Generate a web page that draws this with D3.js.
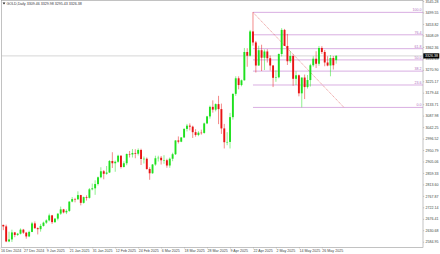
<!DOCTYPE html>
<html>
<head>
<meta charset="utf-8">
<script src="https://cdn.jsdelivr.net/npm/d3@7"></script>
<style>
  body { margin: 0; background: #fff; }
  svg text { font-family: "Liberation Sans", Arial, sans-serif; }
</style>
</head>
<body>
<div id="chart"></div>
<script>
// daily bars, 17 Dec 2024 .. 2 Jun 2025 (index = bar number)
var opens = [2652,2646,2586,2594,2622,2612,2617,2633,2621,2606,
  2624,2658,2639,2635,2648,2661,2670,2690,2663,2677,
  2697,2714,2702,2708,2745,2755,2754,2771,2740,2763,
  2760,2794,2798,2815,2842,2866,2856,2861,2907,2898,
  2904,2928,2883,2898,2935,2933,2939,2936,2951,2915,
  2916,2875,2858,2893,2918,2920,2910,2910,2889,2916,
  2934,2989,2984,3001,3035,3048,3044,3022,3011,3020,
  3019,3057,3085,3123,3112,3134,3114,3037,2982,2983,
  3082,3175,3237,3210,3229,3342,3327,3424,3380,3288,
  3349,3319,3344,3317,3288,3239,3241,3334,3430,3366,
  3305,3326,3235,3249,3177,3240,3202,3230,3289,3315,
  3295,3358,3342,3300,3288,3318,3309.46];
var highs = [2653,2653,2625,2633,2624,2620,2638,2636,2624,2629,
  2664,2666,2642,2656,2665,2674,2697,2692,2679,2698,
  2725,2716,2714,2746,2763,2760,2786,2772,2765,2770,
  2799,2817,2830,2845,2882,2871,2887,2911,2942,2909,
  2932,2930,2906,2937,2947,2955,2954,2957,2956,2925,
  2921,2882,2895,2928,2928,2927,2930,2916,2921,2940,
  2990,3005,3002,3038,3055,3057,3048,3034,3026,3032,
  3060,3087,3128,3149,3137,3167,3136,3055,3022,3099,
  3176,3245,3245,3232,3358,3357,3430,3500,3386,3367,
  3371,3352,3353,3328,3290,3269,3336,3437,3434,3414,
  3345,3332,3265,3252,3240,3252,3250,3295,3325,3345,
  3366,3365,3350,3325,3330,3326,3329.98];
var lows = [2631,2583,2583,2584,2603,2608,2614,2616,2597,2603,
  2623,2636,2614,2625,2645,2656,2666,2656,2660,2670,
  2692,2698,2695,2704,2742,2742,2753,2730,2737,2749,
  2757,2790,2772,2809,2838,2834,2852,2859,2879,2864,
  2900,2877,2881,2890,2921,2921,2918,2929,2891,2897,
  2872,2832,2856,2888,2905,2893,2896,2880,2880,2906,
  2931,2977,2982,2999,3025,3029,2999,3004,3006,3012,
  3016,3054,3076,3100,3105,3054,3015,2957,2970,2957,
  3072,3167,3193,3205,3228,3283,3324,3367,3260,3287,
  3266,3270,3300,3268,3202,3223,3237,3324,3366,3290,
  3298,3207,3210,3165,3121,3154,3196,3204,3283,3278,
  3287,3334,3285,3285,3245,3272,3295.43];
var closes = [2646,2586,2594,2622,2612,2617,2633,2621,2606,2624,
  2658,2639,2635,2648,2661,2670,2690,2663,2677,2697,
  2714,2702,2708,2745,2755,2754,2771,2740,2763,2760,
  2794,2798,2815,2842,2866,2856,2861,2907,2898,2904,
  2928,2883,2898,2935,2933,2939,2936,2951,2915,2916,
  2875,2858,2893,2918,2920,2910,2911,2889,2916,2934,
  2989,2984,3001,3035,3048,3044,3022,3011,3020,3019,
  3057,3085,3123,3112,3134,3114,3037,2982,2983,3082,
  3175,3237,3210,3229,3342,3327,3424,3380,3288,3349,
  3319,3344,3317,3288,3239,3241,3334,3430,3366,3305,
  3326,3235,3249,3177,3240,3202,3230,3289,3315,3295,
  3358,3342,3300,3288,3318,3289,3326.38];

var dateTickBars = [-1, 7, 15, 23, 31, 39, 47, 55, 63, 71, 79, 87, 95, 103, 111];
var dateTickLabels = ["16 Dec 2024", "27 Dec 2024", "9 Jan 2025", "21 Jan 2025", "31 Jan 2025",
  "12 Feb 2025", "24 Feb 2025", "6 Mar 2025", "18 Mar 2025", "28 Mar 2025",
  "9 Apr 2025", "22 Apr 2025", "2 May 2025", "14 May 2025", "26 May 2025"];
var priceTicks = [2584.95, 2630.68, 2676.41, 2722.14, 2767.87, 2813.60, 2859.33, 2905.06,
  2950.79, 2996.52, 3042.25, 3087.98, 3133.71, 3179.44, 3225.17, 3270.90, 3316.63,
  3362.36, 3408.09, 3453.82, 3499.55, 3545.28];

// fibonacci retracement: anchor bars / prices, levels
var fibBars = [87, 118.7];
var fibPrices = [3500.05, 3120.78];
var fibLevels = [0, 23.6, 38.2, 50.0, 61.8, 76.4, 100.0];

var title = "GOLD,Daily  3309.46 3329.98 3295.43 3326.38";

var W = 440, H = 254;
var plot = {left: 1.5, right: 423, top: 0.5, bottom: 247.5};

var svg = d3.select("#chart")
  .append("svg")
    .attr("width", W)
    .attr("height", H);

var x = d3.scaleLinear()
  .domain([0, 116])
  .range([3.3, 336.2]);

var y = d3.scaleLinear()
  .domain([2575.8, 3549.4])
  .range([244, 0]);

var bars = d3.range(opens.length).map(function(i) {
  return {i: i, o: opens[i], h: highs[i], l: lows[i], c: closes[i]};
});

// frame
svg.append("rect")
  .attr("x", plot.left).attr("y", plot.top)
  .attr("width", plot.right - plot.left)
  .attr("height", plot.bottom - plot.top)
  .attr("fill", "none")
  .attr("stroke", "#999")
  .attr("stroke-width", 0.6);

var g = svg.append("g");

// current price line
var last = closes[closes.length - 1];
g.append("line")
  .attr("x1", plot.left).attr("x2", plot.right)
  .attr("y1", y(last)).attr("y2", y(last))
  .attr("stroke", "#bbb")
  .attr("stroke-width", 0.6);

// fib levels
var fibColor = "#c98bd6";
var fibX0 = x(fibBars[0]);
var fibLev = fibLevels.map(function(lv) {
  return {lv: lv, p: fibPrices[1] + (fibPrices[0] - fibPrices[1]) * lv / 100};
});
g.selectAll(".fib")
  .data(fibLev)
  .enter().append("line")
    .attr("class", "fib")
    .attr("x1", fibX0).attr("x2", plot.right)
    .attr("y1", function(d) { return y(d.p); })
    .attr("y2", function(d) { return y(d.p); })
    .attr("stroke", fibColor)
    .attr("stroke-width", 0.7);

g.selectAll(".fibtxt")
  .data(fibLev)
  .enter().append("text")
    .attr("x", plot.right - 1.5)
    .attr("y", function(d) { return y(d.p) - 1; })
    .attr("text-anchor", "end")
    .attr("font-size", 3.6)
    .attr("fill", "#b070c0")
    .text(function(d) { return d.lv.toFixed(1); });

// fib trend line
g.append("line")
  .attr("x1", x(fibBars[0])).attr("y1", y(fibPrices[0]))
  .attr("x2", x(fibBars[1])).attr("y2", y(fibPrices[1]))
  .attr("stroke", "#e06060")
  .attr("stroke-width", 0.6)
  .attr("stroke-dasharray", "1.2,0.8");

// candles
var up = "#1fe01f", down = "#e81414";
var bw = 1.9;

g.selectAll(".wick")
  .data(bars)
  .enter().append("line")
    .attr("class", "wick")
    .attr("x1", function(d) { return x(d.i); })
    .attr("x2", function(d) { return x(d.i); })
    .attr("y1", function(d) { return y(d.h); })
    .attr("y2", function(d) { return y(d.l); })
    .attr("stroke", function(d) { return d.c >= d.o ? up : down; })
    .attr("stroke-width", 0.5);

g.selectAll(".body")
  .data(bars)
  .enter().append("rect")
    .attr("class", "body")
    .attr("x", function(d) { return x(d.i) - bw / 2; })
    .attr("y", function(d) { return y(Math.max(d.o, d.c)); })
    .attr("width", bw)
    .attr("height", function(d) { return Math.max(0.5, Math.abs(y(d.o) - y(d.c))); })
    .attr("fill", function(d) { return d.c >= d.o ? up : down; });

// price axis
var yAxis = svg.append("g")
  .attr("transform", "translate(" + plot.right + ",0)")
  .call(d3.axisRight(y)
    .tickValues(priceTicks)
    .tickSize(1.2)
    .tickPadding(1.2)
    .tickFormat(function(d) { return d.toFixed(2); }));
yAxis.select(".domain").remove();
yAxis.selectAll("line").attr("stroke", "#999").attr("stroke-width", 0.5);
yAxis.selectAll("text").attr("font-size", 3.6).attr("fill", "#444");

// current price label
svg.append("rect")
  .attr("x", plot.right + 0.3).attr("y", y(last) - 2.6)
  .attr("width", 16).attr("height", 5.2)
  .attr("fill", "#000");
svg.append("text")
  .attr("x", plot.right + 2).attr("y", y(last) + 1.3)
  .attr("font-size", 3.6)
  .attr("fill", "#fff")
  .text(last.toFixed(2));

// date axis
var xAxis = svg.append("g")
  .attr("transform", "translate(0," + plot.bottom + ")")
  .call(d3.axisBottom(x)
    .tickValues(dateTickBars)
    .tickSize(1)
    .tickPadding(0.8)
    .tickFormat(function(d, i) { return dateTickLabels[i]; }));
xAxis.select(".domain").remove();
xAxis.selectAll("line").attr("stroke", "#999").attr("stroke-width", 0.5);
xAxis.selectAll("text")
  .attr("text-anchor", "start")
  .attr("font-size", 3.6)
  .attr("fill", "#444");

// title
svg.append("path")
  .attr("d", "M2.6,2.6 L5.4,2.6 L4,4.6 Z")
  .attr("fill", "#222");
svg.append("text")
  .attr("x", 6.5).attr("y", 4.8)
  .attr("font-size", 3.6)
  .attr("fill", "#333")
  .text(title);
</script>
</body>
</html>
